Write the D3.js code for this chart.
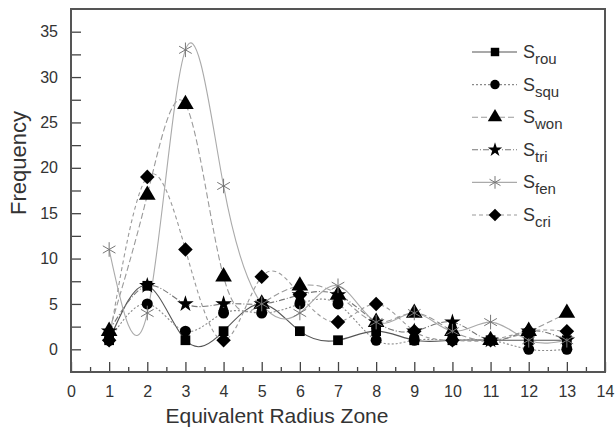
<!DOCTYPE html>
<html>
<head>
<meta charset="utf-8">
<script src="https://cdn.jsdelivr.net/npm/d3@7"></script>
<style>
  body { margin: 0; background: #fff; }
  text { font-family: Arial, "Liberation Sans", sans-serif; fill: #333; }
</style>
</head>
<body>
<div class="chart"></div>
<script>
// zones on x axis
const zones = [1, 2, 3, 4, 5, 6, 7, 8, 9, 10, 11, 12, 13];
// frequency per zone
const sRou = [1, 7, 1, 2, 5, 2, 1, 2, 1, 1, 1, 1, 1];
const sSqu = [1, 5, 2, 4, 4, 5, 5, 1, 1, 1, 1, 0, 0];
const sWon = [2, 17, 27, 8, 5, 7, 6, 3, 4, 2, 1, 2, 4];
const sTri = [2, 7, 5, 5, 5, 6, 6, 3, 2, 3, 1, 2, 1];
const sFen = [11, 4, 33, 18, 5, 4, 7, 3, 4, 2, 3, 1, 1];
const sCri = [1, 19, 11, 1, 8, 6, 3, 5, 2, 1, 1, 2, 2];
const seriesNames = ['rou', 'squ', 'won', 'tri', 'fen', 'cri'];
const xTicks = d3.range(0, 15, 1);
const yTicks = d3.range(0, 37.5, 2.5);

const series = [
  {name: 'rou', values: sRou, symbol: d3.symbolSquare, size: 95, line: '#555', dash: null},
  {name: 'squ', values: sSqu, symbol: d3.symbolCircle, size: 95, line: '#8a8a8a', dash: '2,2'},
  {name: 'won', values: sWon, symbol: d3.symbolTriangle, size: 120, line: '#9a9a9a', dash: '6,3'},
  {name: 'tri', values: sTri, symbol: d3.symbolStar, size: 85, line: '#777', dash: '6,2,1,2'},
  {name: 'fen', values: sFen, symbol: d3.symbolAsterisk, size: 150, line: '#aaa', dash: null},
  {name: 'cri', values: sCri, symbol: d3.symbolDiamond2, size: 135, line: '#9a9a9a', dash: '4,3'}
];

const width = 615, height = 429;
const margin = {top: 9, right: 10, bottom: 57, left: 71};
const plotW = width - margin.left - margin.right;
const plotH = height - margin.top - margin.bottom;

const svg = d3.select('.chart').append('svg')
  .attr('width', width).attr('height', height);
const g = svg.append('g').attr('transform', `translate(${margin.left},${margin.top})`);

const x = d3.scaleLinear().domain([0, 14]).range([0, plotW]);
const y = d3.scaleLinear().domain([-2.5, 37.5]).range([plotH, 0]);

// lines (spline)
const line = d3.line()
  .x(d => x(d.x))
  .y(d => y(d.v))
  .curve(d3.curveNatural);

series.forEach(s => {
  const pts = zones.map((z, i) => ({x: z, v: s.values[i]}));
  g.append('path')
    .datum(pts)
    .attr('d', line)
    .attr('fill', 'none')
    .attr('stroke', s.line)
    .attr('stroke-width', 1.1)
    .attr('stroke-dasharray', s.dash);
});

// markers
series.forEach(s => {
  const pts = zones.map((z, i) => ({x: z, v: s.values[i]}));
  const sym = d3.symbol().type(s.symbol).size(s.size);
  g.selectAll(`.m-${s.name}`)
    .data(pts)
    .enter()
    .append('path')
    .attr('class', `m-${s.name}`)
    .attr('transform', d => `translate(${x(d.x)},${y(d.v)})`)
    .attr('d', sym)
    .attr('fill', s.name === 'fen' ? 'none' : '#000')
    .attr('stroke', s.name === 'fen' ? '#777' : 'none')
    .attr('stroke-width', 1);
});

// axes, ticks pointing inward
const xAxis = d3.axisBottom(x).tickValues(xTicks).tickSize(-10).tickSizeOuter(0).tickPadding(14);
const xMinor = d3.axisBottom(x).tickValues(d3.range(0.5, 14, 1)).tickSize(-5).tickSizeOuter(0).tickFormat('');
const yAxis = d3.axisLeft(y).tickValues(yTicks).tickSize(-10).tickSizeOuter(0).tickPadding(13)
  .tickFormat(d => d % 5 === 0 ? d : '');

g.append('g').attr('transform', `translate(0,${plotH})`).call(xAxis);
g.append('g').attr('transform', `translate(0,${plotH})`).call(xMinor);
g.append('g').call(yAxis);

g.selectAll('.domain').remove();
g.selectAll('.tick line').attr('stroke', '#444').attr('stroke-width', 1.3);
g.selectAll('.tick text').style('font-size', '16px').style('fill', '#333');

// frame
g.append('rect')
  .attr('width', plotW).attr('height', plotH)
  .attr('fill', 'none').attr('stroke', '#555').attr('stroke-width', 2);

// axis titles
svg.append('text')
  .attr('x', 277).attr('y', 423)
  .attr('text-anchor', 'middle')
  .style('font-size', '21px')
  .text('Equivalent Radius Zone');
svg.append('text')
  .attr('transform', 'translate(26,163) rotate(-90)')
  .attr('text-anchor', 'middle')
  .style('font-size', '22px')
  .text('Frequency');

// legend
const legend = svg.append('g').attr('transform', 'translate(472,52)');
series.forEach((s, i) => {
  const row = legend.append('g').attr('transform', `translate(0,${i * 32.6})`);
  row.append('line')
    .attr('x1', 0).attr('x2', 45)
    .attr('stroke', s.line).attr('stroke-width', 1.1)
    .attr('stroke-dasharray', s.dash);
  row.append('path')
    .attr('transform', 'translate(23,0)')
    .attr('d', d3.symbol().type(s.symbol).size(s.size * 0.75))
    .attr('fill', s.name === 'fen' ? 'none' : '#000')
    .attr('stroke', s.name === 'fen' ? '#777' : 'none');
  const t = row.append('text').attr('x', 51).attr('y', 6).style('font-size', '18px');
  t.append('tspan').text('S');
  t.append('tspan').attr('dy', 6).style('font-size', '15px').text(seriesNames[i]);
});
</script>
</body>
</html>
